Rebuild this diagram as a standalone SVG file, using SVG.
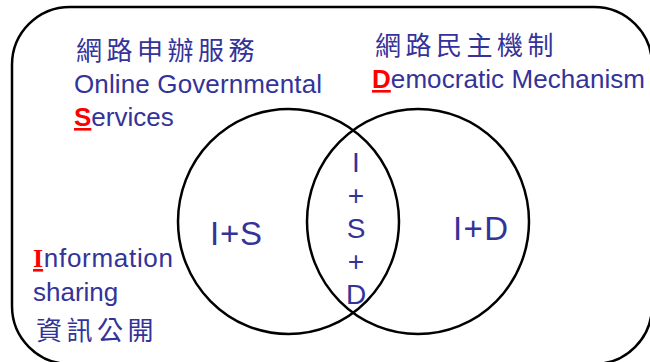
<svg xmlns="http://www.w3.org/2000/svg" width="650" height="362" viewBox="0 0 650 362">
<style>
.t{font-family:"Liberation Sans",Arial,sans-serif;fill:#333399;font-size:26px}
.cjk{font-family:"Noto Sans CJK TC","Noto Sans CJK SC",sans-serif;fill:#333399;font-size:26px;letter-spacing:4.5px;font-weight:normal}
.r{fill:#ff0000;font-weight:bold;text-decoration:underline}
.serif{font-family:"Liberation Serif","Times New Roman",serif}
.lbl{font-family:"Liberation Sans",Arial,sans-serif;fill:#333399;font-size:33px}
.v{font-family:"Liberation Sans",Arial,sans-serif;fill:#333399;font-size:28px;text-anchor:middle}
.ln{fill:none;stroke:#000;stroke-width:2.5}
</style>
<rect width="650" height="362" fill="#fff"/>
<g id="frame"><rect class="ln" x="12" y="7" width="640" height="357" rx="58" ry="58"/></g>
<g id="circles">
<ellipse id="circle-s" class="ln" cx="288.5" cy="221.5" rx="110.5" ry="112.5"/>
<ellipse id="circle-d" class="ln" cx="418" cy="221.5" rx="111" ry="112.5"/>
</g>
<g id="services">
<text class="cjk" x="76" y="60">網路申辦服務</text>
<text class="t" x="74" y="93" textLength="248">Online Governmental</text>
<text class="t" x="74" y="126"><tspan class="r">S</tspan>ervices</text>
</g>
<g id="democratic">
<text class="cjk" x="375" y="55">網路民主機制</text>
<text class="t" x="372" y="88" textLength="273"><tspan class="r">D</tspan>emocratic Mechanism</text>
</g>
<g id="information">
<text class="t" x="33" y="267" textLength="140"><tspan class="r serif">I</tspan>nformation</text>
<text class="t" x="33" y="301">sharing</text>
<text class="cjk" x="36" y="340">資訊公開</text>
</g>
<g id="is"><text class="lbl" x="210" y="245" textLength="52">I+S</text></g>
<g id="id"><text class="lbl" x="453" y="240" textLength="55">I+D</text></g>
<g id="isd">
<text class="v" x="356" y="172">I</text>
<text class="v" x="356" y="205">+</text>
<text class="v" x="356" y="238">S</text>
<text class="v" x="356" y="271">+</text>
<text class="v" x="356" y="304">D</text>
</g>
</svg>
